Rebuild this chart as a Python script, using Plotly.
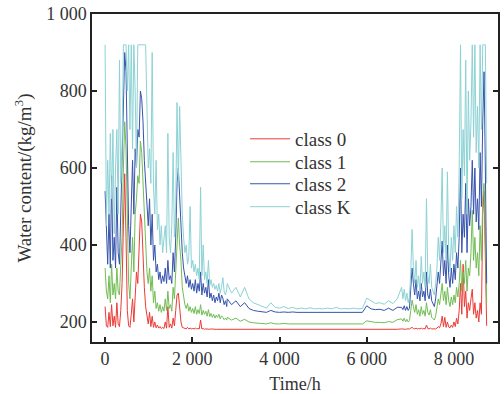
import plotly.graph_objects as go

# time axis (hours): finer sampling in the wet seasons, coarser in the dry middle
hours = list(range(0, 2800, 30)) + list(range(2800, 6800, 100)) + list(range(6800, 8760, 30))

class0 = [
    240, 190, 186, 225, 188, 245, 190, 215, 186, 250,
    195, 188, 230, 300, 450, 585, 420, 230, 190, 186,
    220, 260, 200, 290, 330, 300, 380, 480, 460, 360,
    290, 240, 210, 195, 225, 188, 215, 186, 200, 185,
    192, 184, 188, 183, 186, 183, 200, 184, 240, 186,
    195, 184, 210, 190, 230, 270, 275, 230, 200, 186,
    184, 183, 182, 186, 182, 184, 182, 183, 182, 184,
    182, 183, 182, 205, 182, 183, 181, 182, 181, 182,
    181, 182, 181, 181, 181, 181, 181, 181, 181, 181,
    181, 181, 181, 181,
    181, 181, 181, 181, 181, 181, 180, 180, 180, 180,
    180, 180, 180, 180, 180, 180, 180, 180, 180, 180,
    180, 180, 180, 180, 180, 180, 180, 180, 180, 180,
    180, 180, 181, 181, 181, 181, 181, 181, 181, 181,
    182, 181, 182, 181, 182, 181, 182, 184, 186, 183,
    182, 184, 182, 183, 182, 184, 182, 183, 182, 192,
    183, 182, 184, 182, 182, 181, 182, 184, 188, 185,
    195, 215, 188, 212, 186, 200, 187, 185, 192, 186,
    200, 188, 210, 195, 230, 300, 220, 350, 240, 280,
    210, 250, 230, 260, 285, 220, 250, 210, 230, 200,
    250, 220, 480, 540, 300, 190]

class1 = [
    340, 280, 260, 320, 250, 350, 270, 300, 260, 340,
    280, 270, 350, 420, 600, 720, 650, 420, 300, 260,
    350, 420, 330, 480, 520, 580, 560, 670, 640, 560,
    460, 380, 330, 300, 340, 280, 320, 250, 280, 235,
    250, 228, 245, 225, 240, 228, 260, 230, 280, 235,
    245, 228, 290, 260, 330, 430, 470, 400, 360, 290,
    260, 245, 235, 248, 228, 240, 225, 235, 222, 240,
    220, 232, 222, 245, 218, 230, 220, 228, 215, 232,
    214, 222, 212, 220, 210, 218, 212, 220, 208, 216,
    212, 206, 210, 205,
    212, 205, 210, 202, 207, 200, 198, 197, 196, 195,
    198, 195, 195, 196, 195, 195, 195, 195, 195, 196,
    195, 195, 195, 195, 195, 196, 195, 195, 195, 195,
    195, 195, 203, 200, 199, 199, 198, 201, 199, 206,
    208, 202, 210, 200, 207, 200, 204, 230, 257, 240,
    225, 245, 220, 232, 215, 240, 220, 230, 215, 250,
    225, 218, 232, 212, 208, 205, 215, 235, 260, 245,
    275, 300, 255, 280, 245, 290, 255, 240, 265, 245,
    270, 250, 290, 265, 300, 360, 280, 330, 300, 360,
    280, 340, 320, 380, 490, 360, 420, 340, 380, 320,
    450, 360, 520, 560, 420, 250]

class2 = [
    540, 420, 350, 480, 340, 580, 360, 420, 340, 550,
    380, 350, 500, 600, 780, 900, 850, 600, 450, 380,
    520, 620, 480, 650, 600, 700, 680, 800, 780, 720,
    620, 560, 480, 450, 520, 400, 480, 360, 400, 330,
    350, 310, 330, 300, 320, 305, 340, 300, 360, 310,
    320, 300, 380, 330, 420, 560, 600, 520, 480, 380,
    340, 320, 300, 320, 290, 310, 285, 300, 280, 310,
    275, 300, 280, 330, 270, 300, 275, 290, 265, 310,
    262, 275, 255, 270, 250, 265, 255, 275, 250, 270,
    262, 245, 255, 240,
    260, 245, 255, 240, 250, 235, 230, 228, 226, 225,
    230, 226, 225, 226, 225, 226, 225, 225, 225, 226,
    225, 225, 225, 226, 225, 226, 225, 225, 225, 225,
    225, 225, 242, 234, 232, 233, 230, 236, 230, 238,
    238, 232, 242, 230, 240, 230, 236, 280, 340, 300,
    270, 310, 260, 280, 255, 300, 265, 280, 255, 330,
    270, 260, 285, 255, 248, 240, 260, 290, 330, 300,
    360, 410, 320, 360, 300, 400, 320, 290, 340, 300,
    350, 310, 380, 340, 420, 600, 380, 480, 420, 560,
    380, 520, 450, 500, 620, 480, 600, 460, 520, 440,
    640, 500, 720, 850, 600, 300]

classK = [
    920, 450, 620, 480, 690, 520, 700, 430, 600, 700,
    480, 880, 560, 650, 920, 920, 920, 800, 920, 700,
    920, 650, 920, 800, 600, 920, 920, 920, 920, 920,
    920, 920, 760, 600, 650, 560, 900, 550, 480, 620,
    440, 480, 400, 450, 380, 420, 450, 380, 690, 420,
    380, 450, 640, 420, 500, 770, 560, 760, 600, 480,
    420, 380, 400, 350, 370, 500, 340, 360, 330, 350,
    320, 340, 310, 550, 320, 400, 310, 330, 300, 360,
    295, 310, 290, 300, 285, 295, 280, 300, 275, 290,
    315, 280, 270, 285,
    300, 275, 290, 265, 290, 260, 250, 245, 240, 236,
    250, 238, 236, 240, 235, 238, 234, 236, 234, 237,
    234, 235, 234, 236, 234, 238, 234, 235, 234, 236,
    234, 235, 262, 255, 248, 250, 246, 255, 248, 260,
    290, 260, 285, 255, 275, 250, 265, 330, 440, 340,
    300, 360, 290, 320, 280, 370, 300, 330, 290, 520,
    320, 300, 350, 290, 280, 270, 300, 340, 420, 360,
    460, 600, 380, 450, 360, 590, 380, 330, 420, 360,
    450, 380, 500, 420, 600, 920, 520, 700, 580, 880,
    480, 800, 620, 720, 920, 680, 920, 640, 760, 600,
    920, 700, 920, 920, 920, 560]

names = ["class 0", "class 1", "class 2", "class K"]
colors = ["#ec3b36", "#72bd55", "#3654ad", "#8dd2d5"]
series = [class0, class1, class2, classK]

x_ticks = [0, 2000, 4000, 6000, 8000]
x_ticktext = ["0", "2 000", "4 000", "6 000", "8 000"]
y_ticks = [200, 400, 600, 800, 1000]
y_ticktext = ["200", "400", "600", "800", "1 000"]

serif = "Liberation Serif, Times New Roman, serif"
legend_ids = ["legend", "legend2", "legend3", "legend4"]
legend_y = [0.619, 0.549, 0.482, 0.412]

fig = go.Figure()
for name, col, ys, lid in zip(names, colors, series, legend_ids):
    assert len(ys) == len(hours)
    fig.add_trace(go.Scatter(x=hours, y=ys, mode="lines", name=name, legend=lid,
                             line=dict(color=col, width=1)))

layout_legends = {}
for lid, ly in zip(legend_ids, legend_y):
    layout_legends[lid] = dict(x=0.377, y=ly, xanchor="left", yanchor="middle",
                               bgcolor="rgba(0,0,0,0)", itemwidth=40,
                               font=dict(family=serif, size=19, color="#333"))

fig.update_layout(
    width=504, height=394,
    margin=dict(l=92, r=6, t=14, b=52),
    paper_bgcolor="white", plot_bgcolor="white",
    font=dict(family=serif, size=18, color="#333"),
    showlegend=True,
    **layout_legends,
)
fig.update_xaxes(range=[-300, 9010], tickvals=x_ticks, ticktext=x_ticktext,
                 showgrid=False, zeroline=False, automargin=False,
                 showline=True, linecolor="#222", linewidth=1.5, mirror=True,
                 ticks="inside", ticklen=5, tickwidth=1.5, tickcolor="#222",
                 title=dict(text="Time/h", standoff=13,
                            font=dict(family=serif, size=18, color="#333")))
fig.update_yaxes(range=[148, 1000], tickvals=y_ticks, ticktext=y_ticktext,
                 showgrid=False, zeroline=False, automargin=False,
                 showline=True, linecolor="#222", linewidth=1.5, mirror="ticks",
                 ticks="inside", ticklen=5, tickwidth=1.5, tickcolor="#222",
                 title=dict(text="Water content/(kg/m<sup>3</sup>)", standoff=10,
                            font=dict(family=serif, size=19, color="#333")))

fig.write_html("out.html")
